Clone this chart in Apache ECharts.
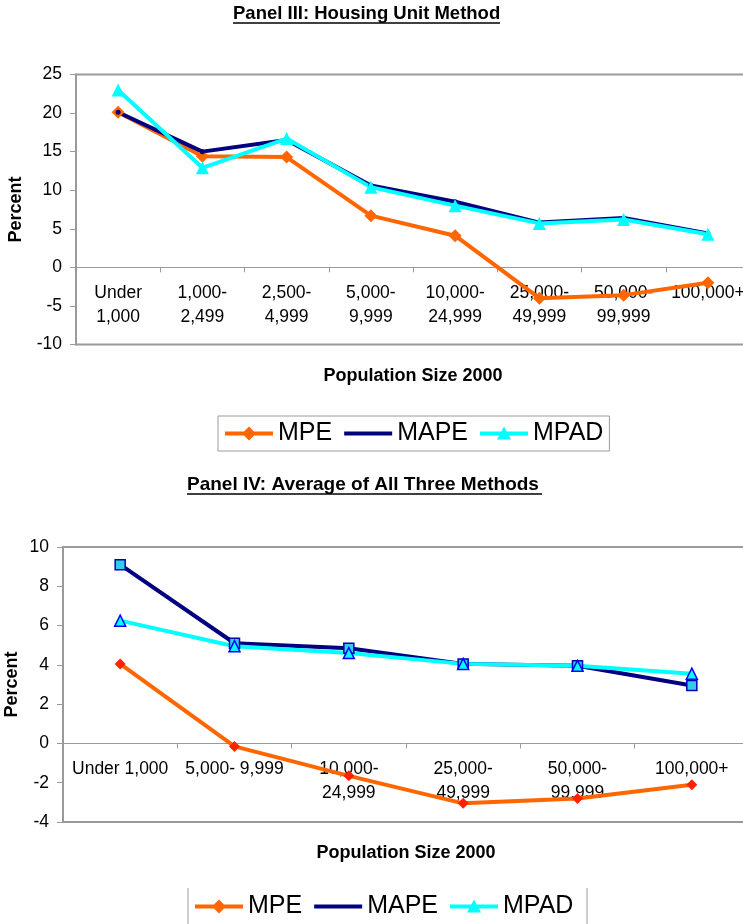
<!DOCTYPE html>
<html>
<head>
<meta charset="utf-8">
<script src="https://cdn.jsdelivr.net/npm/echarts@6/dist/echarts.min.js"></script>
<style>
  html, body { margin: 0; padding: 0; background: #fff; }
  #chart { width: 743px; height: 924px; }
</style>
</head>
<body>
<div id="chart"></div>
<script>
// Panel III: Housing Unit Method
const categoriesIII = ['Under\n1,000', '1,000-\n2,499', '2,500-\n4,999', '5,000-\n9,999',
  '10,000-\n24,999', '25,000-\n49,999', '50,000-\n99,999', '100,000+'];
const mpeIII = [20.1, 14.4, 14.3, 6.7, 4.1, -4.0, -3.6, -2.0];
const mapeIII = [20.1, 15.0, 16.5, 10.6, 8.5, 5.8, 6.4, 4.4];
const mpadIII = [23.0, 12.9, 16.7, 10.4, 8.0, 5.7, 6.2, 4.3];

// Panel IV: Average of All Three Methods
const categoriesIV = ['Under 1,000', '5,000- 9,999', '10,000-\n24,999', '25,000-\n49,999',
  '50,000-\n99,999', '100,000+'];
const mpeIV = [4.05, -0.15, -1.65, -3.05, -2.8, -2.1];
const mapeIV = [9.1, 5.1, 4.85, 4.05, 3.95, 2.95];
const mpadIV = [6.25, 4.95, 4.6, 4.05, 3.95, 3.55];

const seriesNames = ['MPE', 'MAPE', 'MPAD'];

const FONT = 'Liberation Sans, Arial, sans-serif';
const ORANGE = '#FF6600';
const NAVY = '#000080';
const CYAN = '#00FFFF';
const GRAY = '#9a9a9a';

// legend icons: a thick line sample with the series marker in the middle
const ICON_DIAMOND = 'path://M0,5H48V9H0Z M24,0L31,7L24,14L17,7Z';
const ICON_LINE = 'path://M0,0 M0,5H48V9H0Z M48,14';
const ICON_TRIANGLE = 'path://M0,5H48V9H0Z M24,0L31,13L17,13Z M0,14';
const legendIcons = [ICON_DIAMOND, ICON_LINE, ICON_TRIANGLE];
const legendColors = [ORANGE, NAVY, CYAN];

function legendData() {
  return seriesNames.map((n, i) => ({
    name: n,
    icon: legendIcons[i],
    itemStyle: { color: legendColors[i], borderWidth: 0 }
  }));
}

// category labels sit just under the zero line, inside the plot box
function xAxisFor(gridIndex, cats, nameGap, margin) {
  return {
    type: 'category',
    gridIndex: gridIndex,
    data: cats,
    boundaryGap: true,
    name: 'Population Size 2000',
    nameLocation: 'middle',
    nameGap: nameGap,
    nameMoveOverlap: false,
    nameTextStyle: { fontFamily: FONT, fontWeight: 'bold', fontSize: 18, color: '#000' },
    axisLine: { onZero: true, lineStyle: { color: GRAY, width: 1 } },
    axisTick: { show: true, length: 5, inside: false, interval: 0, lineStyle: { color: GRAY } },
    axisLabel: { interval: 0, margin: margin, fontFamily: FONT, fontSize: 17.5, lineHeight: 24, color: '#000' },
    splitLine: { show: false }
  };
}

function yAxisFor(gridIndex, min, max, interval, nameGap) {
  return {
    type: 'value',
    gridIndex: gridIndex,
    min: min, max: max, interval: interval,
    name: 'Percent',
    nameLocation: 'middle',
    nameRotate: 90,
    nameGap: nameGap,
    nameMoveOverlap: false,
    nameTextStyle: { fontFamily: FONT, fontWeight: 'bold', fontSize: 18, color: '#000' },
    axisLine: { show: true, lineStyle: { color: GRAY, width: 2 } },
    axisTick: { show: true, length: 6, inside: false, lineStyle: { color: GRAY } },
    axisLabel: { margin: 14, fontFamily: FONT, fontSize: 17.5, color: '#000' },
    splitLine: { show: false }
  };
}

const option = {
  animation: false,
  backgroundColor: '#fff',
  title: [
    { text: 'Panel III: Housing Unit Method', left: 233, top: 4, padding: 0,
      textStyle: { fontFamily: FONT, fontWeight: 'bold', fontSize: 18.5, color: '#000' } },
    { text: 'Panel IV: Average of All Three Methods', left: 187, top: 475, padding: 0,
      textStyle: { fontFamily: FONT, fontWeight: 'bold', fontSize: 19, color: '#000' } }
  ],
  graphic: [
    // title underlines
    { type: 'line', shape: { x1: 233, y1: 23, x2: 500, y2: 23 }, style: { stroke: '#000', lineWidth: 1.5 } },
    { type: 'line', shape: { x1: 187, y1: 494, x2: 542, y2: 494 }, style: { stroke: '#000', lineWidth: 1.5 } },
    // side rules of the lower legend box
    { type: 'line', shape: { x1: 188, y1: 888, x2: 188, y2: 924 }, style: { stroke: GRAY, lineWidth: 1 } },
    { type: 'line', shape: { x1: 587, y1: 888, x2: 587, y2: 924 }, style: { stroke: GRAY, lineWidth: 1 } }
  ],
  legend: [
    {
      data: legendData(),
      left: 218, top: 416,
      orient: 'horizontal',
      itemWidth: 48, itemHeight: 14, itemGap: 12,
      padding: [5, 6, 5, 7],
      borderColor: GRAY, borderWidth: 1,
      selectedMode: false,
      textStyle: { fontFamily: FONT, fontSize: 25, color: '#000' }
    },
    {
      data: legendData(),
      left: 188, top: 889,
      orient: 'horizontal',
      itemWidth: 48, itemHeight: 14, itemGap: 12,
      padding: [5, 6, 5, 7],
      selectedMode: false,
      textStyle: { fontFamily: FONT, fontSize: 25, color: '#000' }
    }
  ],
  grid: [
    { left: 76, top: 74.5, width: 674, height: 270, show: true, borderColor: GRAY, borderWidth: 2,
      backgroundColor: 'transparent', containLabel: false, outerBoundsMode: 'none' },
    { left: 63, top: 547, width: 686, height: 275, show: true, borderColor: GRAY, borderWidth: 2,
      backgroundColor: 'transparent', containLabel: false, outerBoundsMode: 'none' }
  ],
  xAxis: [
    xAxisFor(0, categoriesIII, 23, -63),
    xAxisFor(1, categoriesIV, 22, -65)
  ],
  yAxis: [
    yAxisFor(0, -10, 25, 5, 51),
    yAxisFor(1, -4, 10, 2, 42)
  ],
  series: [
    { name: 'MPE', type: 'line', xAxisIndex: 0, yAxisIndex: 0, data: mpeIII,
      symbol: 'diamond', symbolSize: 13, showAllSymbol: true,
      lineStyle: { color: ORANGE, width: 4 }, itemStyle: { color: ORANGE } },
    { name: 'MAPE', type: 'line', xAxisIndex: 0, yAxisIndex: 0, data: mapeIII,
      symbol: 'circle', symbolSize: 5, showAllSymbol: true,
      lineStyle: { color: NAVY, width: 4 }, itemStyle: { color: NAVY } },
    { name: 'MPAD', type: 'line', xAxisIndex: 0, yAxisIndex: 0, data: mpadIII,
      symbol: 'triangle', symbolSize: 13, showAllSymbol: true,
      lineStyle: { color: CYAN, width: 4 }, itemStyle: { color: CYAN } },

    { name: 'MPE', type: 'line', xAxisIndex: 1, yAxisIndex: 1, data: mpeIV,
      symbol: 'diamond', symbolSize: 11, showAllSymbol: true,
      lineStyle: { color: ORANGE, width: 4 }, itemStyle: { color: '#FF2200', borderColor: '#FF2200', borderWidth: 0 } },
    { name: 'MAPE', type: 'line', xAxisIndex: 1, yAxisIndex: 1, data: mapeIV,
      symbol: 'rect', symbolSize: 10, showAllSymbol: true,
      lineStyle: { color: NAVY, width: 4 }, itemStyle: { color: '#33CCEE', borderColor: '#0000B0', borderWidth: 1.5 } },
    { name: 'MPAD', type: 'line', xAxisIndex: 1, yAxisIndex: 1, data: mpadIV,
      symbol: 'triangle', symbolSize: 11, showAllSymbol: true,
      lineStyle: { color: CYAN, width: 4 }, itemStyle: { color: CYAN, borderColor: '#0000FF', borderWidth: 1.5 } }
  ]
};

const chart = echarts.init(document.getElementById('chart'), null, { renderer: 'canvas' });
chart.setOption(option);
</script>
</body>
</html>
